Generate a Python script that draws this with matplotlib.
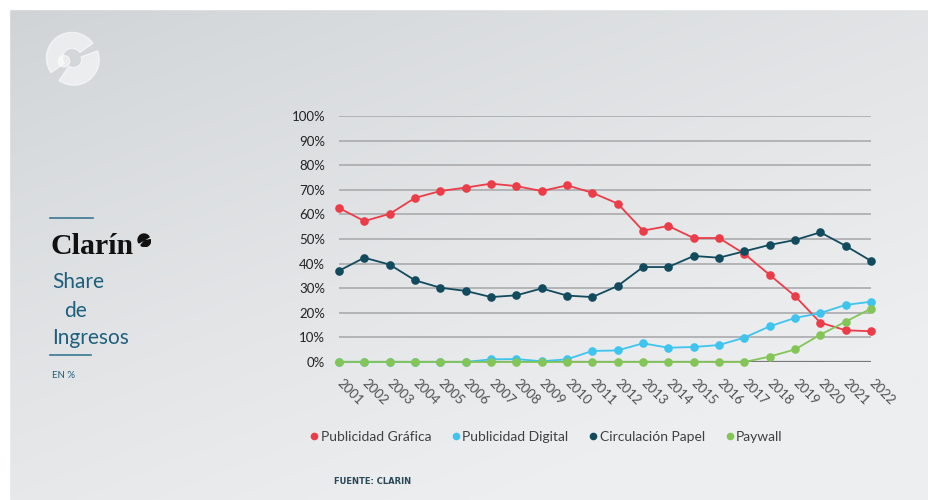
import numpy as np
import matplotlib.pyplot as plt
from matplotlib.patches import Circle, Wedge, Rectangle

years = list(range(2001, 2023))
pub_grafica = [62.6, 57.3, 60.2, 66.7, 69.5, 70.9, 72.5, 71.5, 69.5, 71.8, 68.8,
               64.4, 53.4, 55.3, 50.4, 50.4, 44.0, 35.4, 26.8, 16.0, 12.9, 12.5]
pub_digital = [0, 0, 0, 0, 0, 0, 1.1, 1.2, 0.3, 1.1, 4.5,
               4.7, 7.6, 5.8, 6.1, 6.9, 9.9, 14.5, 17.9, 19.9, 23.2, 24.5]
circ_papel = [37.1, 42.4, 39.6, 33.2, 30.2, 28.9, 26.4, 27.1, 29.9, 27.0, 26.4,
              30.9, 38.6, 38.6, 43.1, 42.4, 45.0, 47.6, 49.6, 52.7, 47.2, 41.1]
paywall = [0, 0, 0, 0, 0, 0, 0, 0, 0, 0, 0,
           0, 0, 0, 0, 0, 0, 2.2, 5.1, 11.1, 16.4, 21.7]

series = [
    ("Publicidad Gráfica", pub_grafica, "#ec3c48"),
    ("Publicidad Digital", pub_digital, "#3ec4ef"),
    ("Circulación Papel", circ_papel, "#124a5e"),
    ("Paywall", paywall, "#84c558"),
]
y_ticks = list(range(0, 101, 10))

W, H = 929, 500
fig = plt.figure(figsize=(W / 100, H / 100), dpi=100)
fig.patch.set_facecolor("#ecedef")

# background panel with soft gradient (runs past right/bottom edge)
bg = fig.add_axes([9 / W, -0.02, (W - 9) / W + 0.03, (H - 9) / H + 0.02])
gx, gy = np.meshgrid(np.linspace(0, 1, 300), np.linspace(0, 1, 200))
t = np.clip(0.55 * gx + 0.75 * gy, 0, 1) ** 0.8
c0 = np.array([207, 211, 213]) / 255
c1 = np.array([237, 238, 240]) / 255
img = c0[None, None, :] * (1 - t[..., None]) + c1[None, None, :] * t[..., None]
bg.imshow(img, aspect="auto", extent=[0, 1, 1, 0])
bg.set_xlim(0, 1)
bg.set_ylim(1, 0)
bg.axis("off")

# white margins top and left
fig.add_artist(Rectangle((0, 1 - 9 / H), 1, 9 / H, transform=fig.transFigure,
                         color="white", zorder=10))
fig.add_artist(Rectangle((0, 0), 9 / W, 1, transform=fig.transFigure,
                         color="white", zorder=10))

# faint logo top-left
logo = fig.add_axes([40 / W, 1 - 90 / H, 64 / W, 64 / H])
logo.set_xlim(-1, 1)
logo.set_ylim(-1, 1)
logo.set_aspect("equal")
logo.axis("off")
logo.add_patch(Wedge((0, 0), 0.8, 35, 215, width=0.5, color="white", alpha=0.55))
logo.add_patch(Wedge((0.05, -0.05), 0.8, 235, 20, width=0.55, color="white", alpha=0.55))
logo.add_patch(Circle((-0.25, -0.1), 0.18, color="white", alpha=0.55))

# main chart
ax = fig.add_axes([339 / W, 1 - 362 / H, (871 - 339) / W, (362 - 116) / H])
ax.patch.set_alpha(0)
ax.set_xlim(2001, 2022)
ax.set_ylim(0, 100)
for v in y_ticks[1:]:
    ax.axhline(v, color="#a9abad", lw=1.2, zorder=1)
ax.axhline(0, color="#76787a", lw=1.6, zorder=1)

for name, vals, col in series:
    ax.plot(years, vals, color=col, lw=1.3, marker="o", ms=6.2,
            markeredgewidth=0, clip_on=False, zorder=3, label=name)

ax.set_yticks(y_ticks)
ax.set_yticklabels([f"{v}%" for v in y_ticks], fontfamily="Lato",
                   fontsize=9.5, color="#222222")
ax.set_xticks(years)
ax.set_xticklabels([str(y) for y in years], rotation=-45, ha="left",
                   va="center", rotation_mode="anchor", fontfamily="Lato",
                   fontsize=9.5, color="#505050")
ax.tick_params(axis="both", length=0)
ax.tick_params(axis="y", pad=10)
ax.tick_params(axis="x", pad=14)
for s in ax.spines.values():
    s.set_visible(False)

leg = fig.legend(loc="center", bbox_to_anchor=(547 / W, 1 - 437 / H), ncol=4,
                 frameon=False, handlelength=0.4, handletextpad=0.25,
                 columnspacing=1.6, prop={"family": "Lato", "size": 10})
for h in leg.legend_handles:
    h.set_linestyle("none")
    h.set_markersize(5.5)
for txt in leg.get_texts():
    txt.set_color("#404040")

fig.text(334 / W, 1 - 481 / H, "FUENTE: CLARIN", fontsize=6,
         fontweight="bold", color="#2a4858", fontfamily="DejaVu Sans",
         va="center", ha="left")

# left title block
blue = "#1e5f7c"
fig.add_artist(plt.Line2D([50 / W, 93 / W], [1 - 218 / H, 1 - 218 / H],
                          color="#3a7893", lw=1.2))
fig.text(51 / W, 1 - 247 / H, "Clarín", fontsize=21.5, fontweight="bold",
         fontfamily="Liberation Serif", color="#111111", va="center", ha="left")
mark = fig.add_axes([137 / W, 1 - 247 / H, 14 / W, 14 / H])
mark.set_xlim(-1, 1)
mark.set_ylim(-1, 1)
mark.axis("off")
mark.add_patch(Wedge((0, 0), 0.85, 30, 210, color="#111111"))
mark.add_patch(Wedge((0.1, -0.1), 0.85, 230, 10, color="#111111"))
fig.text(52 / W, 1 - 282 / H, "Share", fontsize=15, fontfamily="Lato",
         color=blue, va="center", ha="left")
fig.text(64 / W, 1 - 311 / H, "de", fontsize=15, fontfamily="Lato",
         color=blue, va="center", ha="left")
fig.text(52 / W, 1 - 338 / H, "Ingresos", fontsize=15, fontfamily="Lato",
         color=blue, va="center", ha="left")
fig.add_artist(plt.Line2D([50 / W, 91 / W], [1 - 355 / H, 1 - 355 / H],
                          color="#3a7893", lw=1.2))
fig.text(52 / W, 1 - 376 / H, "EN %", fontsize=7, fontfamily="Lato",
         color=blue, va="center", ha="left")

fig.savefig("out.png", dpi=100)
